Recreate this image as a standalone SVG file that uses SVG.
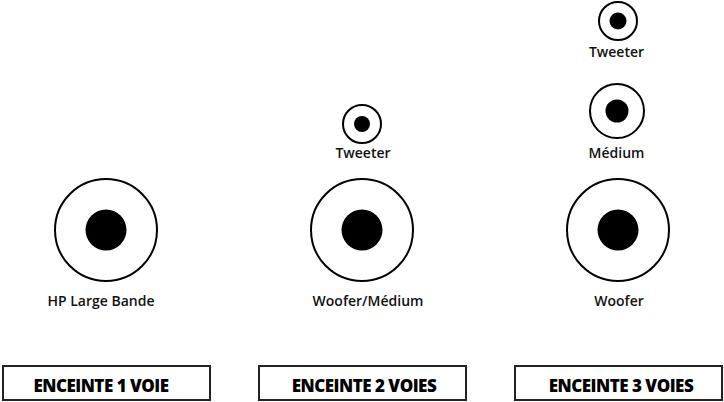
<svg xmlns="http://www.w3.org/2000/svg" width="724" height="402" viewBox="0 0 724 402">
<style>
.ring{fill:#fff;stroke:#000;stroke-width:2}
.dot{fill:#000}
.lbl{font-family:"Open Sans","Noto Sans","Liberation Sans",sans-serif;font-size:14px;font-weight:600;fill:#111;text-anchor:middle}
.box{fill:#fff;stroke:#222;stroke-width:2}
.btxt{font-family:"Open Sans","Noto Sans","Liberation Sans",sans-serif;font-size:17px;font-weight:800;fill:#000;text-anchor:middle;letter-spacing:-0.5px}
</style>
<rect width="724" height="402" fill="#fff"/>
<g id="hp-large-bande">
<circle class="ring" cx="106" cy="230" r="51"/>
<circle class="dot" cx="106" cy="230" r="20.5"/>
<text class="lbl" x="101" y="306">HP Large Bande</text>
</g>
<g id="woofer-medium">
<circle class="ring" cx="362" cy="230" r="51"/>
<circle class="dot" cx="362" cy="230" r="20.5"/>
<text class="lbl" x="368" y="306">Woofer/Médium</text>
</g>
<g id="tweeter-2">
<circle class="ring" cx="362" cy="124" r="19"/>
<circle class="dot" cx="362" cy="124" r="8"/>
<text class="lbl" x="363" y="158">Tweeter</text>
</g>
<g id="woofer-3">
<circle class="ring" cx="618" cy="230" r="51"/>
<circle class="dot" cx="618" cy="230" r="20.5"/>
<text class="lbl" x="619" y="306">Woofer</text>
</g>
<g id="medium-3">
<circle class="ring" cx="617" cy="111" r="27"/>
<circle class="dot" cx="617" cy="111" r="11.5"/>
<text class="lbl" x="616.5" y="158">Médium</text>
</g>
<g id="tweeter-3">
<circle class="ring" cx="618" cy="21" r="19"/>
<circle class="dot" cx="618" cy="21" r="8.5"/>
<text class="lbl" x="616.5" y="57">Tweeter</text>
</g>
<g id="box-1">
<rect class="box" x="3" y="366" width="207" height="34"/>
<text class="btxt" x="101" y="392">ENCEINTE 1 VOIE</text>
</g>
<g id="box-2">
<rect class="box" x="259" y="366" width="207" height="34"/>
<text class="btxt" x="364" y="392">ENCEINTE 2 VOIES</text>
</g>
<g id="box-3">
<rect class="box" x="515" y="366" width="207" height="34"/>
<text class="btxt" x="621" y="392">ENCEINTE 3 VOIES</text>
</g>
<g id="connectors"></g>
</svg>
